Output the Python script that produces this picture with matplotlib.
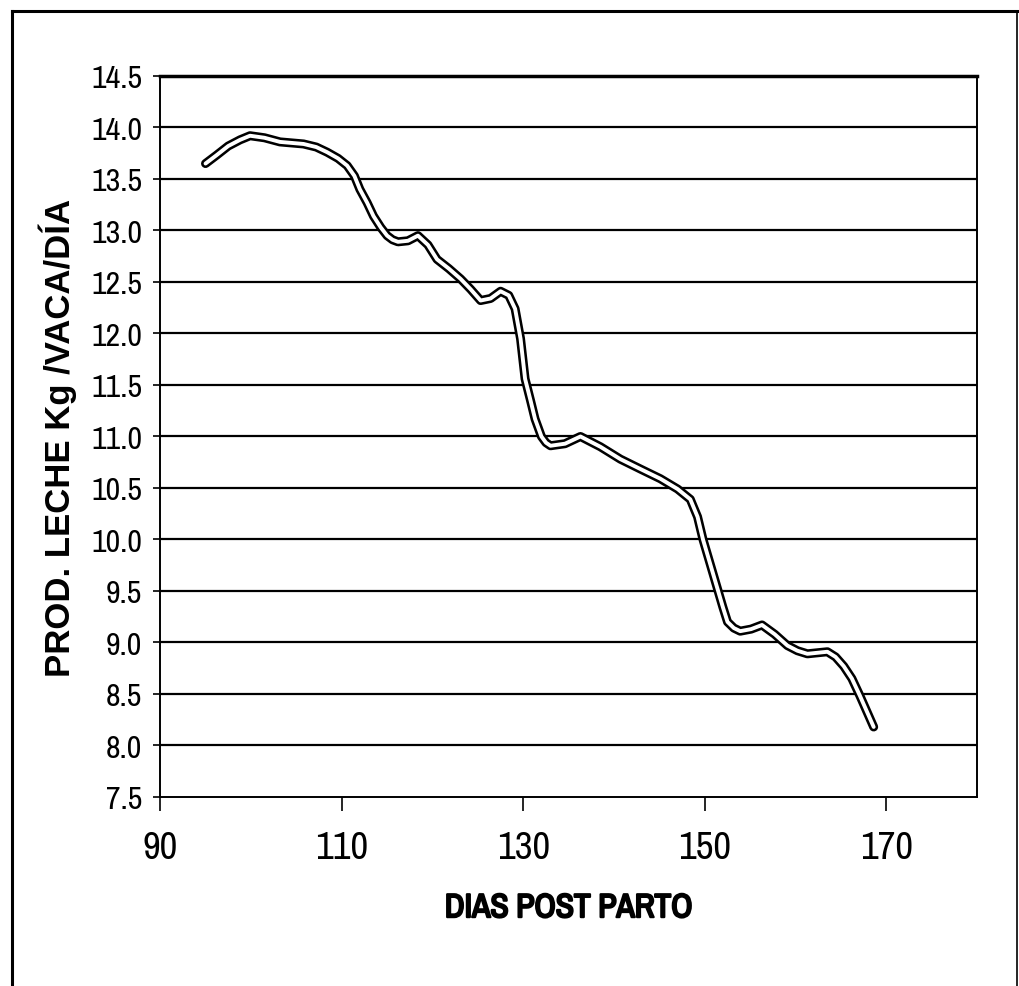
import matplotlib.pyplot as plt
from matplotlib import font_manager
import matplotlib.patheffects as pe
from matplotlib.lines import Line2D

# days post partum and milk yield
dias = [95.0, 96.2, 97.5, 98.8, 99.9, 101.5, 103.2, 105.8, 107.2, 108.4,
        109.6, 110.6, 111.4, 112.0, 112.8, 113.5, 114.3, 115.0, 115.6, 116.2,
        117.3, 118.4, 119.5, 120.5, 121.8, 123.1, 124.2, 124.8, 125.3,
        126.4, 127.5, 128.4, 129.1, 129.7, 130.2, 130.8, 131.3, 132.0, 132.5,
        133.0, 134.6, 136.3, 138.5, 140.7, 143.0, 145.1, 147.0, 148.4, 149.2,
        149.8, 150.6, 151.4, 152.0, 152.5, 153.2, 153.9, 155.1, 156.3, 157.7,
        159.1, 160.2, 161.3, 162.4, 163.5, 164.4, 165.3, 166.2, 167.1, 168.6]
leche = [13.65, 13.73, 13.82, 13.88, 13.92, 13.90, 13.86, 13.84, 13.81, 13.76,
         13.70, 13.63, 13.53, 13.40, 13.27, 13.14, 13.03, 12.95, 12.91, 12.89,
         12.90, 12.95, 12.86, 12.72, 12.63, 12.53, 12.43, 12.37, 12.32,
         12.34, 12.41, 12.37, 12.24, 11.95, 11.56, 11.35, 11.17, 11.00, 10.94,
         10.91, 10.93, 11.00, 10.90, 10.78, 10.68, 10.59, 10.49, 10.39, 10.22,
         10.00, 9.76, 9.52, 9.34, 9.20, 9.14, 9.11, 9.13, 9.17, 9.08,
         8.97, 8.92, 8.89, 8.90, 8.91, 8.86, 8.77, 8.65, 8.48, 8.18]

xticks = [90, 110, 130, 150, 170]
yticks = [7.5 + 0.5 * i for i in range(15)]

# look for a condensed face, like the Arial Narrow of the original
names = sorted(set(f.name for f in font_manager.fontManager.ttflist))
cond = [n for n in names if 'Narrow' in n or 'Condensed' in n]
narrow = cond[:1] + ['Liberation Sans', 'DejaVu Sans']

fig = plt.figure(figsize=(10.2, 9.87), dpi=100)
ax = fig.add_axes([0.157, 0.1915, 0.801, 0.7305])

# double line look: thick black with a thin white core
ax.plot(dias, leche, color='black', lw=6.5, solid_capstyle='round', solid_joinstyle='round', zorder=3)
ax.plot(dias, leche, color='white', lw=2.8, solid_capstyle='round', solid_joinstyle='round', zorder=4)

ax.set_xlim(90, 180)
ax.set_ylim(7.5, 14.5)
ax.set_xticks(xticks)
ax.set_yticks(yticks)
ax.set_yticklabels(['%.1f' % v for v in yticks], family=narrow, fontsize=23, fontstretch='condensed')
ax.set_xticklabels([str(v) for v in xticks], family=narrow, fontsize=28, fontstretch='condensed')

for v in yticks[1:]:
    ax.axhline(v, color='black', lw=1.6, zorder=1)

for s in ['left', 'bottom', 'right']:
    ax.spines[s].set_linewidth(1.4)
ax.spines['top'].set_linewidth(2.5)

ax.tick_params(axis='y', direction='out', length=5, width=1.2, pad=8)
ax.tick_params(axis='x', direction='out', length=10, width=1.2, pad=14)

xl = ax.set_xlabel('DIAS POST PARTO', family=narrow, fontsize=24, fontweight='bold',
                   fontstretch='condensed', labelpad=20)
xl.set_path_effects([pe.withStroke(linewidth=1.6, foreground='black')])
ax.set_ylabel('PROD. LECHE Kg /VACA/DÍA', family=['Liberation Sans', 'DejaVu Sans'],
              fontsize=25, fontweight='bold', labelpad=10)

# outer frame of the figure
fig.add_artist(Line2D([0.012, 0.012], [0.0, 0.988], color='black', lw=2.2))
fig.add_artist(Line2D([0.012, 0.997], [0.988, 0.988], color='black', lw=2.2))
fig.add_artist(Line2D([0.997, 0.997], [0.0, 0.988], color='black', lw=1.2))

fig.savefig('out.png', dpi=100)
